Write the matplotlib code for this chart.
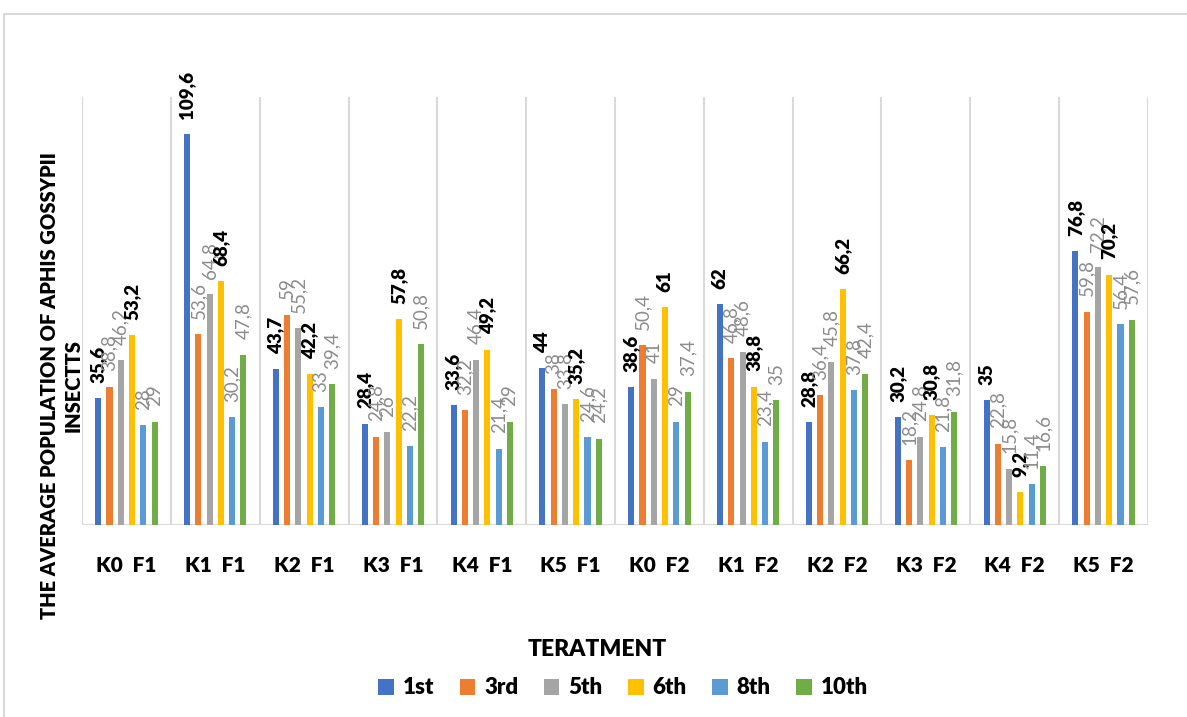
import matplotlib
matplotlib.use("Agg")
import matplotlib.pyplot as plt
from matplotlib.patches import Rectangle, Patch
import numpy as np

categories = ["K0  F1", "K1  F1", "K2  F1", "K3  F1", "K4  F1", "K5  F1",
              "K0  F2", "K1  F2", "K2  F2", "K3  F2", "K4  F2", "K5  F2"]
series_names = ["1st", "3rd", "5th", "6th", "8th", "10th"]
s1st = [35.6, 109.6, 43.7, 28.4, 33.6, 44, 38.6, 62, 28.8, 30.2, 35, 76.8]
s3rd = [38.8, 53.6, 59, 24.8, 32.2, 38, 50.4, 46.8, 36.4, 18.2, 22.8, 59.8]
s5th = [46.2, 64.8, 55.2, 26, 46.4, 33.8, 41, 48.6, 45.8, 24.8, 15.8, 72.2]
s6th = [53.2, 68.4, 42.2, 57.8, 49.2, 35.2, 61, 38.8, 66.2, 30.8, 9.2, 70.2]
s8th = [28, 30.2, 33, 22.2, 21.4, 24.6, 29, 23.4, 37.8, 21.8, 11.4, 56.4]
s10th = [29, 47.8, 39.4, 50.8, 29, 24.2, 37.4, 35, 42.4, 31.8, 16.6, 57.6]
series = [s1st, s3rd, s5th, s6th, s8th, s10th]
colors = ["#4472C4", "#ED7D31", "#A5A5A5", "#FFC000", "#5B9BD5", "#70AD47"]
bold_label = [True, False, False, True, False, False]

plt.rcParams['font.family'] = ['Lato', 'DejaVu Sans']
BW = "heavy"

W, H = 1187, 717
fig = plt.figure(figsize=(W / 100, H / 100), dpi=100)

# outer chart border
fig.patches.append(Rectangle((4 / W, -0.1), 1.2, 1 - 14 / H + 0.1, transform=fig.transFigure,
                             fill=False, edgecolor="#d9d9d9", linewidth=1.5, zorder=0))

ax = fig.add_axes([82 / W, 1 - 525 / H, (1148 - 82) / W, (525 - 97) / H])
n = len(categories)
x = np.arange(n)
pitch = 0.127
bw = 0.068

for i, (vals, c) in enumerate(zip(series, colors)):
    xs = x + (i - 2.5) * pitch
    ax.bar(xs, vals, width=bw, color=c, zorder=3)
    for xi, v in zip(xs, vals):
        txt = (f"{v:g}").replace(".", ",")
        if bold_label[i]:
            ax.annotate(txt, (xi, v), xytext=(0, 11), textcoords="offset points",
                        rotation=90, ha="center", va="bottom", fontsize=13.5,
                        fontweight=BW, color="black", zorder=5)
        else:
            ax.annotate(txt, (xi, v), xytext=(0, 11), textcoords="offset points",
                        rotation=90, ha="center", va="bottom", fontsize=13.5,
                        color="#8c8c8c", zorder=5)

ax.set_xlim(-0.5, n - 0.5)
ax.set_ylim(0, 120)
for b in np.arange(-0.5, n, 1.0):
    ax.axvline(b, color="#d9d9d9", linewidth=1.5, zorder=1)
ax.axhline(0, color="#d9d9d9", linewidth=1.5, zorder=2)
for s in ax.spines.values():
    s.set_visible(False)
ax.set_yticks([])
ax.set_xticks(x)
ax.set_xticklabels(categories, fontsize=15, fontweight=BW)
ax.tick_params(axis="x", length=0, pad=22)

fig.text(597 / W, 1 - 649 / H, "TERATMENT", ha="center", va="center",
         fontsize=16.5, fontweight=BW)
fig.text(61 / W, 1 - 386 / H, "THE AVERAGE POPULATION OF APHIS GOSSYPII\nINSECTTS",
         rotation=90, ha="center", va="center", multialignment="center",
         fontsize=14.5, fontweight=BW, linespacing=1.3)

handles = [Patch(facecolor=c, edgecolor="none") for c in colors]
fig.legend(handles, series_names, loc="center", bbox_to_anchor=(623 / W, 1 - 688 / H),
           ncol=6, frameon=False, prop={"weight": BW, "size": 16},
           handlelength=0.7, handleheight=0.7, handletextpad=0.4, columnspacing=1.15)

fig.savefig("out.png", dpi=100)
